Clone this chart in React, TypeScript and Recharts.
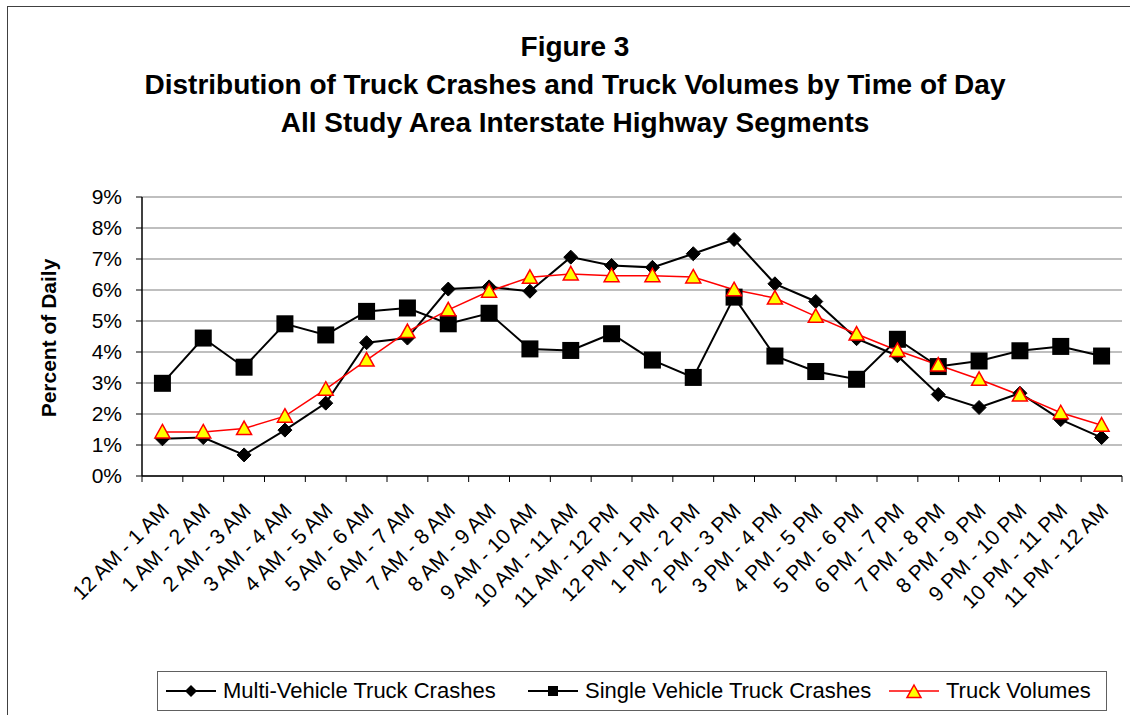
import { CartesianGrid, Legend, Line, LineChart, XAxis, YAxis } from "recharts";

const HOURS = [
  "12 AM - 1 AM", "1 AM - 2 AM", "2 AM - 3 AM", "3 AM - 4 AM", "4 AM - 5 AM", "5 AM - 6 AM",
  "6 AM - 7 AM", "7 AM - 8 AM", "8 AM - 9 AM", "9 AM - 10 AM", "10 AM - 11 AM", "11 AM - 12 PM",
  "12 PM - 1 PM", "1 PM - 2 PM", "2 PM - 3 PM", "3 PM - 4 PM", "4 PM - 5 PM", "5 PM - 6 PM",
  "6 PM - 7 PM", "7 PM - 8 PM", "8 PM - 9 PM", "9 PM - 10 PM", "10 PM - 11 PM", "11 PM - 12 AM",
];

const MULTI = [1.2, 1.24, 0.68, 1.48, 2.35, 4.3, 4.45, 6.03, 6.1, 5.96, 7.06, 6.79, 6.73, 7.17, 7.63, 6.2, 5.63, 4.43, 3.88, 2.63, 2.21, 2.67, 1.82, 1.24];
const SINGLE = [2.99, 4.45, 3.51, 4.91, 4.55, 5.31, 5.42, 4.91, 5.25, 4.1, 4.05, 4.59, 3.74, 3.18, 5.77, 3.87, 3.37, 3.12, 4.41, 3.53, 3.71, 4.04, 4.18, 3.87];
const VOLUMES = [1.42, 1.42, 1.53, 1.93, 2.8, 3.74, 4.66, 5.36, 5.96, 6.41, 6.52, 6.46, 6.46, 6.42, 6.01, 5.74, 5.15, 4.58, 4.05, 3.58, 3.12, 2.61, 2.04, 1.64];

const Y_TICKS = [0, 1, 2, 3, 4, 5, 6, 7, 8, 9];

const TITLE = [
  "Figure 3",
  "Distribution of Truck Crashes and Truck Volumes by Time of Day",
  "All Study Area Interstate Highway Segments",
];

const FONT = '"Liberation Sans", Arial, sans-serif';
const W = 1130;
const H = 715;
const PLOT_LEFT = 142;
const PLOT_RIGHT = 1122;
const BAND = (PLOT_RIGHT - PLOT_LEFT) / HOURS.length;

const data = HOURS.map((hour, i) => ({
  hour,
  multi: MULTI[i],
  single: SINGLE[i],
  volumes: VOLUMES[i],
}));

function diamond(cx: number, cy: number, r: number) {
  return `M${cx},${cy - r}L${cx + r},${cy}L${cx},${cy + r}L${cx - r},${cy}Z`;
}

function triangle(cx: number, cy: number, r: number) {
  return `M${cx},${cy - r}L${cx + r},${cy + r * 0.8}L${cx - r},${cy + r * 0.8}Z`;
}

function DiamondDot(props: any) {
  const { cx, cy, index } = props;
  if (cx == null || cy == null) return null;
  return <path key={index} d={diamond(cx, cy, 7)} fill="#000" stroke="#000" />;
}

function SquareDot(props: any) {
  const { cx, cy, index } = props;
  if (cx == null || cy == null) return null;
  return <rect key={index} x={cx - 8.5} y={cy - 8.5} width={17} height={17} fill="#000" />;
}

function TriangleDot(props: any) {
  const { cx, cy, index } = props;
  if (cx == null || cy == null) return null;
  return <path key={index} d={triangle(cx, cy, 7.5)} fill="#ffff00" stroke="#ff0000" strokeWidth={1.5} />;
}

function HourTick(props: any) {
  const { x, y, payload, index } = props;
  const last = index === HOURS.length - 1;
  const tx = x + 8;
  const ty = y + 36;
  return (
    <g>
      <line x1={x - BAND / 2} x2={x - BAND / 2} y1={y} y2={y + 6} stroke="#000" />
      {last && <line x1={x + BAND / 2} x2={x + BAND / 2} y1={y} y2={y + 6} stroke="#000" />}
      <text
        x={tx}
        y={ty}
        transform={`rotate(-45, ${tx}, ${ty})`}
        textAnchor="end"
        fontSize={21}
        fontFamily={FONT}
        fill="#000"
      >
        {payload.value}
      </text>
    </g>
  );
}

const LEGEND_ITEMS = [
  { name: "Multi-Vehicle Truck Crashes", color: "#000", marker: "diamond", left: 8 },
  { name: "Single Vehicle Truck Crashes", color: "#000", marker: "square", left: 370 },
  { name: "Truck Volumes", color: "#ff0000", marker: "triangle", left: 731 },
];

function LegendBox() {
  return (
    <div
      style={{
        position: "relative",
        boxSizing: "border-box",
        width: 950,
        height: 40,
        border: "1.5px solid #606060",
        background: "#fff",
        fontFamily: FONT,
        fontSize: 22,
        color: "#000",
      }}
    >
      {LEGEND_ITEMS.map((item) => (
        <div
          key={item.name}
          style={{ position: "absolute", left: item.left, top: 6, display: "flex", alignItems: "center", whiteSpace: "nowrap" }}
        >
          <svg width={50} height={24} style={{ marginRight: 7 }}>
            <line x1={0} x2={50} y1={12} y2={12} stroke={item.color} strokeWidth={item.marker === "triangle" ? 1.5 : 2} />
            {item.marker === "diamond" && <path d={diamond(25, 12, 6)} fill="#000" />}
            {item.marker === "square" && <rect x={20} y={7} width={10} height={10} fill="#000" />}
            {item.marker === "triangle" && (
              <path d={triangle(25, 13, 7)} fill="#ffff00" stroke="#ff0000" strokeWidth={1.5} />
            )}
          </svg>
          <span>{item.name}</span>
        </div>
      ))}
    </div>
  );
}

export default function App() {
  return (
    <div style={{ position: "absolute", left: 0, top: 0, width: W, height: H, background: "#fff", overflow: "hidden" }}>
      <div
        style={{
          position: "absolute",
          left: 7,
          top: 6,
          width: W,
          height: H,
          borderLeft: "1.5px solid #404040",
          borderTop: "1.5px solid #404040",
        }}
      />
      <LineChart
        width={W}
        height={H}
        data={data}
        margin={{ top: 197, right: W - PLOT_RIGHT, left: 0, bottom: 0 }}
        style={{ position: "absolute", left: 0, top: 0 }}
      >
        <text x={575} fontFamily={FONT} fontWeight="bold" fontSize={28} textAnchor="middle" fill="#000">
          {TITLE.map((line, i) => (
            <tspan key={line} x={575} y={56 + i * 38}>
              {line}
            </tspan>
          ))}
        </text>
        <text
          x={48}
          y={338}
          transform="rotate(-90, 48, 338)"
          textAnchor="middle"
          dominantBaseline="central"
          fontFamily={FONT}
          fontWeight="bold"
          fontSize={21}
          fill="#000"
        >
          Percent of Daily
        </text>
        <CartesianGrid vertical={false} stroke="#808080" strokeWidth={1.2} />
        <XAxis
          dataKey="hour"
          height={H - 476}
          interval={0}
          padding={{ left: BAND / 2, right: BAND / 2 }}
          tickLine={false}
          tickSize={0}
          tickMargin={0}
          axisLine={{ stroke: "#000", strokeWidth: 1.5 }}
          tick={<HourTick />}
        />
        <YAxis
          width={PLOT_LEFT}
          domain={[0, 9]}
          ticks={Y_TICKS}
          interval={0}
          tickFormatter={(v: number) => `${v}%`}
          tickSize={6}
          tickMargin={14}
          tickLine={{ stroke: "#000" }}
          axisLine={{ stroke: "#000", strokeWidth: 1.5 }}
          tick={{ fill: "#000", fontSize: 21, fontFamily: FONT }}
        />
        <YAxis
          yAxisId="right"
          orientation="right"
          width={0}
          domain={[0, 9]}
          tick={false}
          tickLine={false}
          axisLine={{ stroke: "#808080", strokeWidth: 1.5 }}
        />
        <Line
          dataKey="multi"
          name="Multi-Vehicle Truck Crashes"
          stroke="#000"
          strokeWidth={2}
          dot={<DiamondDot />}
          activeDot={false}
          isAnimationActive={false}
        />
        <Line
          dataKey="single"
          name="Single Vehicle Truck Crashes"
          stroke="#000"
          strokeWidth={2}
          dot={<SquareDot />}
          activeDot={false}
          isAnimationActive={false}
        />
        <Line
          dataKey="volumes"
          name="Truck Volumes"
          stroke="#ff0000"
          strokeWidth={1.5}
          dot={<TriangleDot />}
          activeDot={false}
          isAnimationActive={false}
        />
        <Legend
          verticalAlign="middle"
          align="center"
          content={<LegendBox />}
          wrapperStyle={{ position: "absolute", left: 157, top: 671, width: 950, height: 40 }}
        />
      </LineChart>
    </div>
  );
}
